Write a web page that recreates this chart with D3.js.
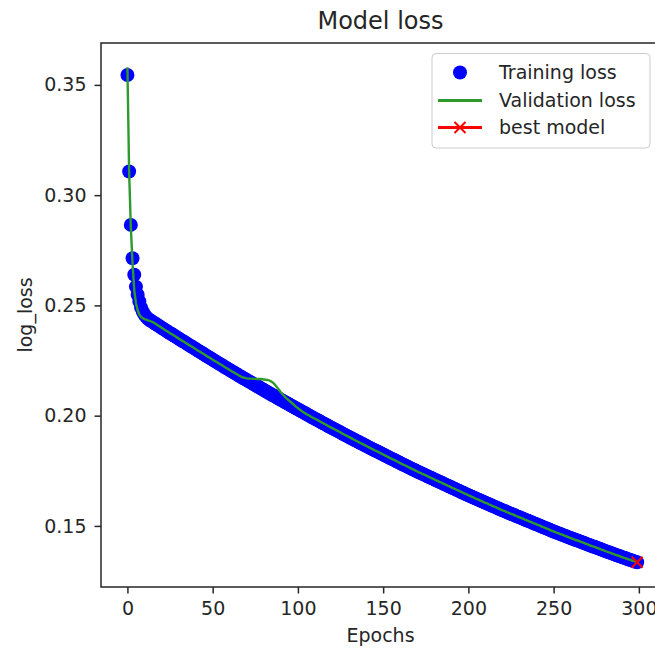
<!DOCTYPE html>
<html>
<head>
<meta charset="utf-8">
<script src="https://cdn.jsdelivr.net/npm/d3@7"></script>
<style>
  html, body { margin: 0; padding: 0; background: #ffffff; }
  svg { display: block; }
</style>
</head>
<body>
<svg id="chart" width="655" height="653"></svg>
<script>
// Loss per epoch (index = epoch number)
const trainLoss = [
  0.3545,0.3107,0.2865,0.2714,0.2639,0.2585,0.2548,0.2518,0.2490,0.2472,
  0.2458,0.2448,0.2440,0.2434,0.2429,0.2424,0.2419,0.2414,0.2409,0.2404,
  0.2399,0.2394,0.2389,0.2384,0.2379,0.2374,0.2370,0.2365,0.2360,0.2355,
  0.2350,0.2345,0.2340,0.2336,0.2331,0.2326,0.2321,0.2316,0.2312,0.2307,
  0.2302,0.2297,0.2292,0.2288,0.2283,0.2278,0.2273,0.2268,0.2264,0.2259,
  0.2254,0.2249,0.2245,0.2240,0.2235,0.2231,0.2226,0.2221,0.2216,0.2212,
  0.2207,0.2202,0.2198,0.2193,0.2189,0.2184,0.2179,0.2175,0.2170,0.2166,
  0.2161,0.2157,0.2152,0.2148,0.2143,0.2139,0.2134,0.2130,0.2125,0.2121,
  0.2116,0.2112,0.2107,0.2103,0.2098,0.2094,0.2090,0.2085,0.2081,0.2076,
  0.2072,0.2068,0.2063,0.2059,0.2055,0.2050,0.2046,0.2042,0.2037,0.2033,
  0.2029,0.2025,0.2020,0.2016,0.2012,0.2007,0.2003,0.1999,0.1994,0.1990,
  0.1986,0.1982,0.1978,0.1973,0.1969,0.1965,0.1961,0.1957,0.1952,0.1948,
  0.1944,0.1940,0.1936,0.1932,0.1928,0.1924,0.1919,0.1915,0.1911,0.1907,
  0.1903,0.1899,0.1895,0.1891,0.1887,0.1883,0.1879,0.1875,0.1871,0.1867,
  0.1863,0.1859,0.1855,0.1851,0.1847,0.1843,0.1840,0.1836,0.1832,0.1828,
  0.1824,0.1820,0.1816,0.1812,0.1808,0.1804,0.1801,0.1797,0.1793,0.1789,
  0.1785,0.1781,0.1777,0.1774,0.1770,0.1766,0.1762,0.1758,0.1755,0.1751,
  0.1747,0.1743,0.1740,0.1736,0.1733,0.1729,0.1725,0.1722,0.1718,0.1715,
  0.1711,0.1707,0.1704,0.1700,0.1697,0.1693,0.1689,0.1686,0.1682,0.1679,
  0.1675,0.1671,0.1668,0.1664,0.1661,0.1657,0.1653,0.1650,0.1646,0.1643,
  0.1639,0.1636,0.1632,0.1629,0.1625,0.1622,0.1619,0.1615,0.1612,0.1608,
  0.1605,0.1602,0.1598,0.1595,0.1591,0.1588,0.1585,0.1581,0.1578,0.1574,
  0.1571,0.1568,0.1565,0.1561,0.1558,0.1555,0.1552,0.1549,0.1545,0.1542,
  0.1539,0.1536,0.1533,0.1529,0.1526,0.1523,0.1520,0.1517,0.1513,0.1510,
  0.1507,0.1504,0.1501,0.1497,0.1494,0.1491,0.1488,0.1485,0.1481,0.1478,
  0.1475,0.1472,0.1469,0.1466,0.1463,0.1460,0.1457,0.1454,0.1451,0.1448,
  0.1445,0.1442,0.1439,0.1436,0.1434,0.1431,0.1428,0.1425,0.1422,0.1419,
  0.1416,0.1413,0.1410,0.1407,0.1405,0.1402,0.1399,0.1396,0.1393,0.1390,
  0.1387,0.1384,0.1381,0.1379,0.1376,0.1373,0.1370,0.1367,0.1365,0.1362,
  0.1359,0.1356,0.1354,0.1351,0.1348,0.1346,0.1343,0.1340,0.1338,0.1335
];

const valLoss = [
  0.3580,0.3105,0.2855,0.2690,0.2570,0.2510,0.2478,0.2458,0.2448,0.2442,
  0.2438,0.2435,0.2432,0.2430,0.2427,0.2424,0.2419,0.2414,0.2409,0.2404,
  0.2399,0.2394,0.2389,0.2384,0.2379,0.2374,0.2370,0.2365,0.2360,0.2355,
  0.2350,0.2345,0.2340,0.2336,0.2331,0.2326,0.2321,0.2316,0.2312,0.2307,
  0.2302,0.2297,0.2292,0.2288,0.2283,0.2278,0.2273,0.2268,0.2264,0.2259,
  0.2254,0.2249,0.2245,0.2240,0.2235,0.2231,0.2226,0.2221,0.2216,0.2212,
  0.2207,0.2202,0.2198,0.2193,0.2189,0.2184,0.2180,0.2176,0.2173,0.2171,
  0.2169,0.2168,0.2168,0.2168,0.2167,0.2167,0.2166,0.2166,0.2166,0.2165,
  0.2164,0.2163,0.2162,0.2160,0.2157,0.2152,0.2145,0.2136,0.2126,0.2116,
  0.2106,0.2097,0.2089,0.2081,0.2074,0.2067,0.2061,0.2054,0.2047,0.2040,
  0.2034,0.2028,0.2022,0.2017,0.2012,0.2007,0.2003,0.1999,0.1994,0.1990,
  0.1986,0.1982,0.1978,0.1973,0.1969,0.1965,0.1961,0.1957,0.1952,0.1948,
  0.1944,0.1940,0.1936,0.1932,0.1928,0.1924,0.1919,0.1915,0.1911,0.1907,
  0.1903,0.1899,0.1895,0.1891,0.1887,0.1883,0.1879,0.1875,0.1871,0.1867,
  0.1863,0.1859,0.1855,0.1851,0.1847,0.1843,0.1840,0.1836,0.1832,0.1828,
  0.1824,0.1820,0.1816,0.1812,0.1808,0.1804,0.1801,0.1797,0.1793,0.1789,
  0.1785,0.1781,0.1777,0.1774,0.1770,0.1766,0.1762,0.1758,0.1755,0.1751,
  0.1747,0.1743,0.1740,0.1736,0.1733,0.1729,0.1725,0.1722,0.1718,0.1715,
  0.1711,0.1707,0.1704,0.1700,0.1697,0.1693,0.1689,0.1686,0.1682,0.1679,
  0.1675,0.1671,0.1668,0.1664,0.1661,0.1657,0.1653,0.1650,0.1646,0.1643,
  0.1639,0.1636,0.1632,0.1629,0.1625,0.1622,0.1619,0.1615,0.1612,0.1608,
  0.1605,0.1602,0.1598,0.1595,0.1591,0.1588,0.1585,0.1581,0.1578,0.1574,
  0.1571,0.1568,0.1565,0.1561,0.1558,0.1555,0.1552,0.1549,0.1545,0.1542,
  0.1539,0.1536,0.1533,0.1529,0.1526,0.1523,0.1520,0.1517,0.1513,0.1510,
  0.1507,0.1504,0.1501,0.1497,0.1494,0.1491,0.1488,0.1485,0.1481,0.1478,
  0.1475,0.1472,0.1469,0.1466,0.1463,0.1460,0.1457,0.1454,0.1451,0.1448,
  0.1445,0.1442,0.1439,0.1436,0.1434,0.1431,0.1428,0.1425,0.1422,0.1419,
  0.1416,0.1413,0.1410,0.1407,0.1405,0.1402,0.1399,0.1396,0.1393,0.1390,
  0.1387,0.1384,0.1381,0.1379,0.1376,0.1373,0.1370,0.1367,0.1365,0.1362,
  0.1359,0.1356,0.1354,0.1351,0.1348,0.1346,0.1343,0.1340,0.1338,0.1335
];

// Checkpoint with the lowest validation loss
const bestEpoch = [299];
const bestLoss = [0.1335];

const xTicks = [0, 50, 100, 150, 200, 250, 300];
const yTicks = [0.15, 0.20, 0.25, 0.30, 0.35];
const legendLabels = ["Training loss", "Validation loss", "best model"];
const titleText = "Model loss";
const xLabelText = "Epochs";
const yLabelText = "log_loss";

// ---- layout ----
const FONT = "'DejaVu Sans', 'Liberation Sans', sans-serif";
const TEXT = "#262626";
const plot = { left: 101, right: 660, top: 43, bottom: 587 };

const svg = d3.select("#chart");

const x = d3.scaleLinear().domain([-15.5, 312.4]).range([plot.left, plot.right]);
const y = d3.scaleLinear().domain([0.1223, 0.3690]).range([plot.bottom, plot.top]);

svg.append("defs").append("clipPath").attr("id", "plot-clip")
  .append("rect")
  .attr("x", plot.left).attr("y", plot.top)
  .attr("width", plot.right - plot.left).attr("height", plot.bottom - plot.top);

const marks = svg.append("g").attr("clip-path", "url(#plot-clip)");

// training loss: one dot per epoch
marks.append("g")
  .selectAll("circle")
  .data(trainLoss)
  .join("circle")
  .attr("cx", (d, i) => x(i))
  .attr("cy", d => y(d))
  .attr("r", 7)
  .attr("fill", "#0000ff");

// validation loss line
const line = d3.line().x((d, i) => x(i)).y(d => y(d));
marks.append("path")
  .datum(valLoss)
  .attr("d", line)
  .attr("fill", "none")
  .attr("stroke", "#2e9a2e")
  .attr("stroke-width", 2.4)
  .attr("stroke-linejoin", "round");

// best model marker (x)
const xMark = 5.5;
const bestG = marks.append("g");
bestEpoch.forEach((ep, i) => {
  const cx = x(ep), cy = y(bestLoss[i]);
  bestG.append("path")
    .attr("d", `M${cx - xMark},${cy - xMark}L${cx + xMark},${cy + xMark}M${cx - xMark},${cy + xMark}L${cx + xMark},${cy - xMark}`)
    .attr("stroke", "#ff0000")
    .attr("stroke-width", 2)
    .attr("fill", "none");
});

// ---- axes ----
const yAxis = svg.append("g")
  .attr("transform", `translate(${plot.left},0)`)
  .call(d3.axisLeft(y).tickValues(yTicks).tickFormat(d3.format(".2f")).tickSize(6.5).tickPadding(8));
const xAxis = svg.append("g")
  .attr("transform", `translate(0,${plot.bottom})`)
  .call(d3.axisBottom(x).tickValues(xTicks).tickFormat(d3.format("d")).tickSize(6.5).tickPadding(8.5));

[xAxis, yAxis].forEach(g => {
  g.select(".domain").remove();
  g.selectAll(".tick line").attr("stroke", TEXT).attr("stroke-width", 1.5);
  g.selectAll(".tick text")
    .attr("fill", TEXT)
    .style("font-family", FONT)
    .style("font-size", "19px");
});

// spines
svg.append("rect")
  .attr("x", plot.left).attr("y", plot.top)
  .attr("width", plot.right - plot.left).attr("height", plot.bottom - plot.top)
  .attr("fill", "none")
  .attr("stroke", TEXT)
  .attr("stroke-width", 1.5);

// ---- titles ----
const cx = (plot.left + plot.right) / 2;
svg.append("text")
  .attr("x", cx).attr("y", 29)
  .attr("text-anchor", "middle")
  .attr("fill", TEXT)
  .style("font-family", FONT).style("font-size", "24px")
  .text(titleText);

svg.append("text")
  .attr("x", cx).attr("y", 642)
  .attr("text-anchor", "middle")
  .attr("fill", TEXT)
  .style("font-family", FONT).style("font-size", "19px")
  .text(xLabelText);

svg.append("text")
  .attr("transform", `translate(32,${(plot.top + plot.bottom) / 2}) rotate(-90)`)
  .attr("text-anchor", "middle")
  .attr("fill", TEXT)
  .style("font-family", FONT).style("font-size", "19px")
  .text(yLabelText);

// ---- legend ----
const legend = svg.append("g");
legend.append("rect")
  .attr("x", 432).attr("y", 53.5)
  .attr("width", 218).attr("height", 94.5)
  .attr("rx", 4)
  .attr("fill", "#ffffff").attr("fill-opacity", 0.8)
  .attr("stroke", "#cccccc").attr("stroke-width", 1);

const rowY = [72.5, 100.5, 127.5];
const swatchX0 = 438, swatchX1 = 482, swatchMid = 460, labelX = 499;

legend.append("circle")
  .attr("cx", swatchMid).attr("cy", rowY[0]).attr("r", 7)
  .attr("fill", "#0000ff");

legend.append("line")
  .attr("x1", swatchX0).attr("x2", swatchX1)
  .attr("y1", rowY[1]).attr("y2", rowY[1])
  .attr("stroke", "#2e9a2e").attr("stroke-width", 2.8);

legend.append("line")
  .attr("x1", swatchX0).attr("x2", swatchX1)
  .attr("y1", rowY[2]).attr("y2", rowY[2])
  .attr("stroke", "#ff0000").attr("stroke-width", 2.8);
legend.append("path")
  .attr("d", `M${swatchMid - xMark},${rowY[2] - xMark}L${swatchMid + xMark},${rowY[2] + xMark}M${swatchMid - xMark},${rowY[2] + xMark}L${swatchMid + xMark},${rowY[2] - xMark}`)
  .attr("stroke", "#ff0000").attr("stroke-width", 2);

legend.selectAll("text.legend-label")
  .data(legendLabels)
  .join("text")
  .attr("class", "legend-label")
  .attr("x", labelX)
  .attr("y", (d, i) => rowY[i])
  .attr("dy", "0.35em")
  .attr("fill", TEXT)
  .style("font-family", FONT).style("font-size", "19px")
  .text(d => d);
</script>
</body>
</html>
